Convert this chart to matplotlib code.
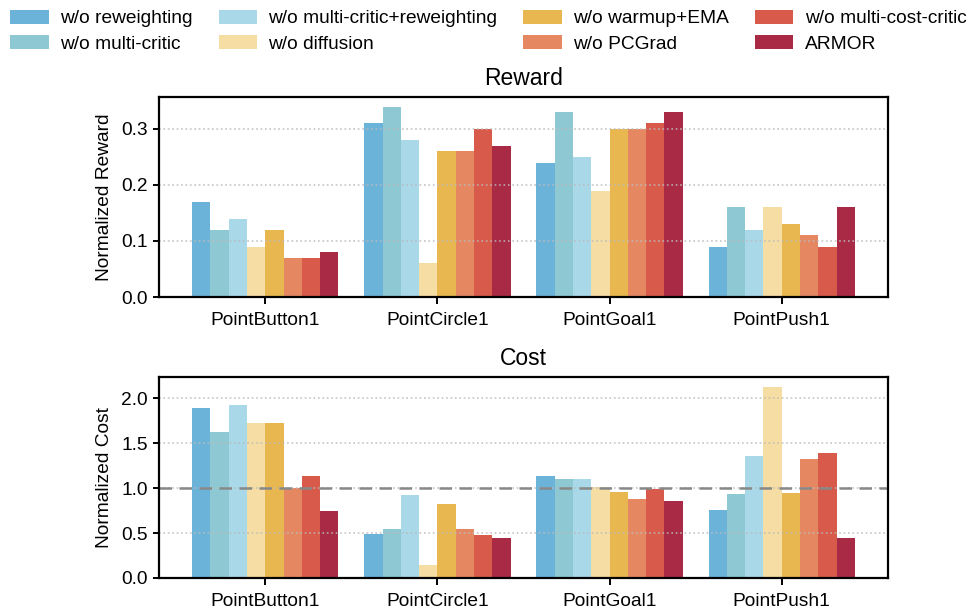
import numpy as np
import matplotlib
matplotlib.use("Agg")
import matplotlib.pyplot as plt

plt.rcParams['font.family'] = ['Liberation Sans', 'DejaVu Sans']

envs = ["PointButton1", "PointCircle1", "PointGoal1", "PointPush1"]
methods = ["w/o reweighting", "w/o multi-critic", "w/o multi-critic+reweighting",
           "w/o diffusion", "w/o warmup+EMA", "w/o PCGrad",
           "w/o multi-cost-critic", "ARMOR"]
colors = ["#6BB3D9", "#8EC9D3", "#A9D8E8", "#F6DDA4",
          "#E8B750", "#E58862", "#D85A4A", "#A92A44"]

# rows: methods, columns: environments
reward = [
    [0.17, 0.31, 0.24, 0.09],
    [0.12, 0.34, 0.33, 0.16],
    [0.14, 0.28, 0.25, 0.12],
    [0.09, 0.06, 0.19, 0.16],
    [0.12, 0.26, 0.30, 0.13],
    [0.07, 0.26, 0.30, 0.11],
    [0.07, 0.30, 0.31, 0.09],
    [0.08, 0.27, 0.33, 0.16],
]
cost = [
    [1.89, 0.49, 1.14, 0.76],
    [1.63, 0.54, 1.10, 0.93],
    [1.93, 0.92, 1.10, 1.36],
    [1.73, 0.14, 1.01, 2.13],
    [1.73, 0.82, 0.96, 0.95],
    [1.00, 0.54, 0.88, 1.32],
    [1.13, 0.48, 0.99, 1.39],
    [0.75, 0.44, 0.86, 0.44],
]
reward_ticks = [0.0, 0.1, 0.2, 0.3]
cost_ticks = [0.0, 0.5, 1.0, 1.5, 2.0]
cost_threshold = 1.0

FS = 13.8

fig = plt.figure(figsize=(9.75, 6.12), dpi=100)
ax_r = fig.add_axes([159/975, 1 - 297/612, 729/975, 200/612])
ax_c = fig.add_axes([159/975, 1 - 578/612, 729/975, 201/612])

n = len(methods)
width = 0.85 / n
x = np.arange(len(envs))


def draw(ax, data, title, ylabel, yticks):
    handles = []
    for i, (m, c) in enumerate(zip(methods, colors)):
        off = (i - (n - 1) / 2) * width
        h = ax.bar(x + off, data[i], width, color=c, label=m, linewidth=0, zorder=2)
        handles.append(h)
    top = max(max(r) for r in data) * 1.05
    ax.set_ylim(0, top)
    ax.set_yticks(yticks)
    ax.set_xticks(x)
    ax.set_xticklabels(envs, fontsize=FS)
    ax.tick_params(axis='y', labelsize=FS, length=4.5, width=1.4, pad=3.5)
    ax.tick_params(axis='x', length=5, width=1.4, pad=6)
    ax.set_title(title, fontsize=16.5, pad=8.5)
    ax.set_ylabel(ylabel, fontsize=FS, labelpad=6)
    # dotted horizontal guides drawn over the bars
    for t in yticks[1:]:
        ax.axhline(t, linestyle=':', color='#BBBBBB', linewidth=1.2,
                   alpha=0.85, zorder=3)
    for s in ax.spines.values():
        s.set_linewidth(1.6)
        s.set_zorder(4)
    return handles


handles = draw(ax_r, reward, "Reward", "Normalized Reward", reward_ticks)
draw(ax_c, cost, "Cost", "Normalized Cost", cost_ticks)
ax_c.axhline(cost_threshold, color='#888888', linestyle='--', linewidth=1.8,
             dashes=(5, 3), zorder=3.5)

fig.legend(handles, methods, ncol=4, loc='upper left', bbox_to_anchor=(-0.007, 1.012),
           frameon=False, fontsize=FS, handlelength=2.0, handleheight=0.72,
           columnspacing=1.35, handletextpad=0.6, labelspacing=0.42)

fig.savefig("out.png", dpi=100)
